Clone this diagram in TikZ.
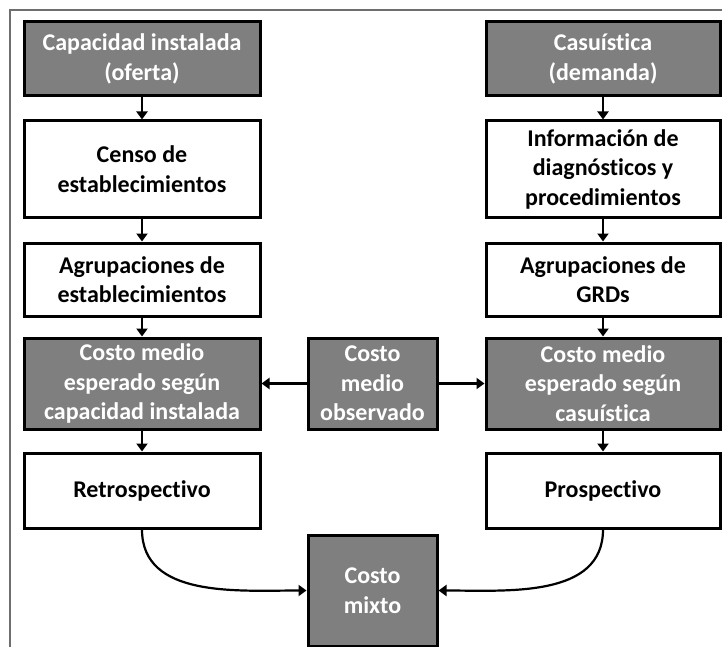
\documentclass[tikz,border=0pt]{standalone}
\usepackage{fontspec}
\setmainfont{Carlito}[Ligatures=NoCommon]
\usetikzlibrary{arrows.meta}
\definecolor{boxgray}{HTML}{7F7F7F}
\definecolor{framegray}{HTML}{6E6E6E}
\tikzset{
  base/.style={draw=black, line width=3pt, inner sep=0pt, align=center,
    font=\fontsize{24}{29.5}\selectfont\bfseries},
  graybox/.style={base, fill=boxgray, text=white},
  whitebox/.style={base, fill=white, text=black},
  conn/.style={line width=2.2pt, -{Triangle[width=11pt,length=8pt]}}
}
\begin{document}
\begin{tikzpicture}[x=1pt,y=-1pt]
\useasboundingbox (0,0) rectangle (722,647);
\draw[framegray, line width=1.2pt] (10,647) -- (10,10) -- (722,10);
% left column
\node[graybox, minimum width=236pt, minimum height=74pt] (L1) at (142,59) {Capacidad instalada\\(oferta)};
\node[whitebox, minimum width=236pt, minimum height=96pt] (L2) at (142,169) {Censo de\\establecimientos};
\node[whitebox, minimum width=236pt, minimum height=73pt] (L3) at (142,279.5) {Agrupaciones de\\establecimientos};
\node[graybox, minimum width=236pt, minimum height=91pt] (L4) at (142,383.5) {Costo medio\\esperado según\\capacidad instalada};
\node[whitebox, minimum width=236pt, minimum height=75pt] (L5) at (142,490.5) {Retrospectivo};
% right column
\node[graybox, minimum width=234pt, minimum height=74pt] (R1) at (603,59) {Casuística\\(demanda)};
\node[whitebox, minimum width=234pt, minimum height=96pt] (R2) at (603,169) {Información de\\diagnósticos y\\procedimientos};
\node[whitebox, minimum width=234pt, minimum height=73pt] (R3) at (603,279.5) {Agrupaciones de\\GRDs};
\node[graybox, minimum width=234pt, minimum height=91pt] (R4) at (603,383.5) {Costo medio\\esperado según\\casuística};
\node[whitebox, minimum width=234pt, minimum height=75pt] (R5) at (603,490.5) {Prospectivo};
% middle
\node[graybox, minimum width=129pt, minimum height=91pt] (M) at (372.5,383.5) {Costo\\medio\\observado};
\node[graybox, minimum width=129pt, minimum height=111pt] (X) at (372.5,590.5) {Costo\\mixto};
% connectors
\draw[conn] (L1) -- (L2);
\draw[conn] (L2) -- (L3);
\draw[conn] (L3) -- (L4);
\draw[conn] (L4) -- (L5);
\draw[conn] (R1) -- (R2);
\draw[conn] (R2) -- (R3);
\draw[conn] (R3) -- (R4);
\draw[conn] (R4) -- (R5);
\draw[conn] (M) -- (L4);
\draw[conn] (M) -- (R4);
\draw[conn] (L5.south) to[out=-90,in=180] (X.west);
\draw[conn] (R5.south) to[out=-90,in=0] (X.east);
\end{tikzpicture}
\end{document}
